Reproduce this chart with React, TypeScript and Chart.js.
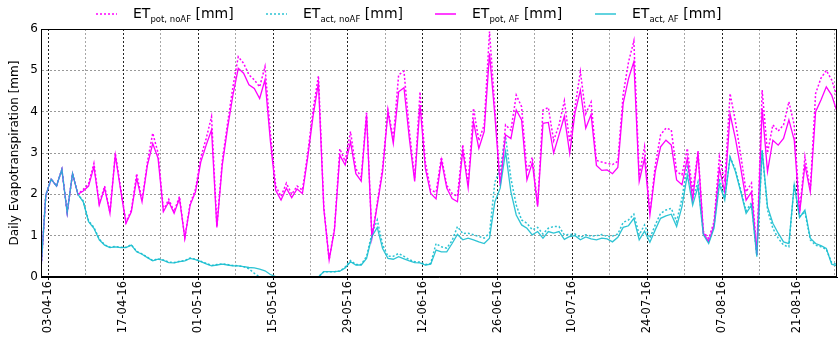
import React, { useEffect, useRef } from 'react';
import { Chart, registerables } from 'chart.js';

Chart.register(...registerables);

// Daily values, one per day (index 0 = 01-04-16 noon ... )
const potNoAF = [
  0, 1.98, 2.37, 2.2, 2.6, 1.56, 2.5, 2.0, 2.12, 2.25,
  2.75, 1.78, 2.2, 1.56, 3.0, 2.15, 1.32, 1.62, 2.5, 1.85,
  2.78, 3.48, 3.0, 1.62, 1.88, 1.58, 1.95, 0.95, 1.78, 2.12,
  2.9, 3.35, 3.88, 1.22, 2.8, 3.72, 4.6, 5.33, 5.17, 4.89,
  4.77, 4.6, 5.09, 3.5, 2.2, 1.95, 2.27, 2.0, 2.2, 2.1,
  3.0, 4.05, 4.87, 1.7, 0.42, 1.18, 3.1, 2.8, 3.52, 2.62,
  2.42, 4.0, 0.96, 1.8, 2.65, 4.05, 3.35, 4.89, 4.98, 3.55,
  2.4, 4.48, 2.78, 2.1, 2.05, 2.9, 2.22, 2.02, 1.95, 3.2,
  2.25, 4.08, 3.3, 3.68, 5.94, 4.1, 2.3, 3.68, 3.55, 4.4,
  4.12, 2.55, 2.9, 1.75, 4.04, 4.1, 3.3, 3.68, 4.26, 3.27,
  4.12, 4.97, 3.95, 4.23, 2.82, 2.78, 2.75, 2.72, 2.8, 4.42,
  5.2, 5.71, 2.45, 3.15, 1.55, 2.7, 3.44, 3.6, 3.56, 2.55,
  2.47, 3.11, 2.06, 3.05, 1.1, 0.93, 1.34, 2.91, 2.3, 4.44,
  3.76, 2.95, 2.06, 2.27, 0.6, 4.52, 3.0, 3.68, 3.53, 3.68,
  4.24, 3.68, 1.58, 2.91, 2.1, 4.44, 4.81, 5.0, 4.77, 4.36,
];

const actNoAF = [
  0, 1.98, 2.37, 2.2, 2.6, 1.56, 2.5, 2.0, 1.84, 1.36,
  1.2, 0.92, 0.78, 0.72, 0.74, 0.72, 0.72, 0.78, 0.62, 0.56,
  0.48, 0.4, 0.44, 0.41, 0.36, 0.35, 0.38, 0.4, 0.46, 0.43,
  0.38, 0.33, 0.28, 0.3, 0.32, 0.3, 0.28, 0.27, 0.25, 0.2,
  0.09, 0.0, 0, 0, 0, 0, 0, 0, 0, 0,
  0, 0, 0, 0.13, 0.13, 0.13, 0.14, 0.24, 0.4, 0.3,
  0.3, 0.5, 1.05, 1.38, 0.78, 0.5, 0.5, 0.57, 0.5, 0.42,
  0.37, 0.36, 0.3, 0.33, 0.81, 0.73, 0.7, 0.88, 1.22, 1.05,
  1.06, 1.02, 0.98, 0.94, 1.06, 2.3, 2.6, 3.4, 2.39, 1.74,
  1.38, 1.3, 1.14, 1.2, 1.04, 1.18, 1.22, 1.22, 1.02, 1.03,
  1.04, 0.96, 1.02, 0.99, 1.0, 1.03, 0.98, 0.99, 1.04, 1.32,
  1.38, 1.52, 1.02, 1.26, 0.94, 1.26, 1.54, 1.62, 1.66, 1.34,
  1.9, 2.71, 1.9, 2.3, 1.06, 0.85, 1.24, 2.38, 1.92, 2.9,
  2.6, 2.1, 1.6, 1.8, 0.52, 3.05, 1.62, 1.18, 0.94, 0.77,
  0.73, 2.25, 1.46, 1.58, 0.9, 0.77, 0.73, 0.67, 0.35, 0.3,
];

const potAF = [
  0, 1.98, 2.37, 2.2, 2.6, 1.56, 2.5, 2.0, 2.08, 2.2,
  2.67, 1.74, 2.15, 1.54, 2.95, 2.1, 1.3, 1.58, 2.39, 1.82,
  2.7, 3.23, 2.87, 1.58, 1.82, 1.54, 1.9, 0.94, 1.74, 2.06,
  2.79, 3.19, 3.56, 1.2, 2.7, 3.6, 4.4, 5.05, 4.93, 4.65,
  4.56, 4.32, 4.77, 3.3, 2.1, 1.86, 2.15, 1.92, 2.13, 2.02,
  2.9, 3.9, 4.7, 1.65, 0.41, 1.14, 2.95, 2.71, 3.27, 2.5,
  2.32, 3.92, 0.94, 1.74, 2.55, 4.0, 3.23, 4.48, 4.58, 3.35,
  2.31, 4.16, 2.63, 2.02, 1.89, 2.83, 2.15, 1.9, 1.82, 3.07,
  2.16, 3.76, 3.11, 3.52, 5.41, 3.9, 2.2, 3.44, 3.35, 4.04,
  3.8, 2.35, 2.77, 1.7, 3.72, 3.74, 3.0, 3.44, 3.89, 2.99,
  3.98, 4.52, 3.6, 3.93, 2.7, 2.58, 2.59, 2.5, 2.65, 4.2,
  4.8, 5.21, 2.31, 2.87, 1.5, 2.55, 3.15, 3.31, 3.19, 2.35,
  2.23, 2.87, 1.86, 2.99, 1.06, 0.85, 1.26, 2.63, 2.06, 3.94,
  3.35, 2.63, 1.86, 2.06, 0.53, 4.08, 2.55, 3.31, 3.19, 3.35,
  3.8, 3.31, 1.54, 2.71, 2.06, 4.0, 4.28, 4.6, 4.4, 4.0,
];

const actAF = [
  0, 1.98, 2.37, 2.2, 2.6, 1.56, 2.5, 2.0, 1.82, 1.34,
  1.18, 0.9, 0.77, 0.71, 0.73, 0.71, 0.71, 0.77, 0.61, 0.55,
  0.47, 0.39, 0.43, 0.4, 0.35, 0.34, 0.37, 0.39, 0.45, 0.42,
  0.37, 0.32, 0.27, 0.29, 0.31, 0.29, 0.27, 0.27, 0.25, 0.23,
  0.22, 0.19, 0.15, 0.06, 0.01, 0, 0, 0, 0, 0,
  0, 0, 0, 0.13, 0.13, 0.13, 0.14, 0.22, 0.37, 0.29,
  0.29, 0.45, 0.98, 1.2, 0.69, 0.45, 0.43, 0.49, 0.44, 0.39,
  0.35, 0.34, 0.29, 0.31, 0.65, 0.61, 0.61, 0.81, 1.03, 0.9,
  0.94, 0.9, 0.85, 0.81, 0.94, 1.82, 2.15, 3.03, 2.06, 1.5,
  1.26, 1.18, 1.02, 1.1, 0.94, 1.1, 1.06, 1.1, 0.91, 0.98,
  1.0, 0.9, 0.97, 0.92, 0.9, 0.94, 0.92, 0.85, 0.96, 1.2,
  1.24, 1.42, 0.9, 1.11, 0.84, 1.14, 1.42, 1.48, 1.52, 1.22,
  1.7, 2.47, 1.74, 2.19, 1.02, 0.81, 1.18, 2.24, 1.86, 2.9,
  2.55, 2.06, 1.54, 1.74, 0.49, 3.07, 1.7, 1.3, 1.06, 0.85,
  0.81, 2.23, 1.44, 1.62, 0.94, 0.81, 0.76, 0.69, 0.31, 0.27,
];

// Major tick labels (every 14 days); minor grid lines fall halfway (every 7 days)
const xTickLabels = [
  '03-04-16', '17-04-16', '01-05-16', '15-05-16', '29-05-16', '12-06-16',
  '26-06-16', '10-07-16', '24-07-16', '07-08-16', '21-08-16',
];
const firstTickIndex = 1.5; // 03-04-16 00:00 in data-index units
const tickStepDays = 7;
const minorTickCount = 22;

const yTickValues = [0, 1, 2, 3, 4, 5, 6];

const MAGENTA = 'rgb(255,0,255)';
const TEAL = 'rgba(23,190,207,0.9)';
const FONT = "'DejaVu Sans', sans-serif";

function toXY(values: number[]) {
  return values.map((v, i) => ({ x: i, y: v }));
}

const framePlugin = {
  id: 'frame',
  afterDatasetsDraw(chart: any) {
    const { ctx, chartArea } = chart;
    ctx.save();
    ctx.strokeStyle = '#000';
    ctx.lineWidth = 1;
    ctx.strokeRect(
      Math.round(chartArea.left) + 0.5,
      Math.round(chartArea.top) + 0.5,
      Math.round(chartArea.right - chartArea.left) - 1,
      Math.round(chartArea.bottom - chartArea.top) - 1
    );
    ctx.restore();
  },
};

function LegendItem(props: { left: number; color: string; dashed: boolean; sub: string }) {
  const { left, color, dashed, sub } = props;
  return (
    <div style={{ position: 'absolute', left, top: 2, height: 24, display: 'flex', alignItems: 'center', whiteSpace: 'nowrap' }}>
      <svg width={21} height={4} style={{ marginRight: 16 }}>
        <line x1={0} y1={2} x2={21} y2={2} stroke={color} strokeWidth={1.5} strokeDasharray={dashed ? '2 2' : undefined} />
      </svg>
      <span style={{ fontFamily: FONT, fontSize: 14, color: '#000' }}>
        ET<sub style={{ fontSize: 8.5, verticalAlign: 'sub' }}>{sub}</sub> [mm]
      </span>
    </div>
  );
}

export default function App() {
  const canvasRef = useRef<HTMLCanvasElement | null>(null);

  useEffect(() => {
    if (!canvasRef.current) return;
    const tickPositions: number[] = [];
    for (let k = 0; k < minorTickCount; k++) tickPositions.push(firstTickIndex + k * tickStepDays);

    const chart = new Chart(canvasRef.current, {
      type: 'line',
      data: {
        datasets: [
          { label: 'ET pot, noAF [mm]', data: toXY(potNoAF), borderColor: MAGENTA, borderWidth: 1.5, borderDash: [2, 2], pointRadius: 0, tension: 0, order: 4 },
          { label: 'ET act, noAF [mm]', data: toXY(actNoAF), borderColor: TEAL, borderWidth: 1.5, borderDash: [2, 2], pointRadius: 0, tension: 0, order: 3 },
          { label: 'ET pot, AF [mm]', data: toXY(potAF), borderColor: MAGENTA, borderWidth: 1.3, pointRadius: 0, tension: 0, order: 2 },
          { label: 'ET act, AF [mm]', data: toXY(actAF), borderColor: TEAL, borderWidth: 1.3, pointRadius: 0, tension: 0, order: 1 },
        ],
      },
      options: {
        animation: false,
        responsive: false,
        devicePixelRatio: 1,
        parsing: false as any,
        layout: { padding: { top: 29, right: 1, left: 0, bottom: 0 } },
        plugins: { legend: { display: false }, tooltip: { enabled: false } },
        scales: {
          x: {
            type: 'linear',
            min: 0.1,
            max: 149.0,
            afterFit: (scale: any) => {
              scale.height = 63;
              scale.paddingLeft = 0;
              scale.paddingRight = 0;
            },
            afterBuildTicks: (scale: any) => { scale.ticks = tickPositions.map((v) => ({ value: v })); },
            ticks: {
              autoSkip: false,
              minRotation: 90,
              maxRotation: 90,
              padding: 1,
              color: '#000',
              font: { family: FONT, size: 11.5 },
              callback: (_v: any, idx: number) => (idx % 2 === 0 ? xTickLabels[idx / 2] ?? '' : ''),
            },
            grid: {
              color: (ctx: any) => (ctx.index % 2 === 0 ? 'rgba(0,0,0,0.85)' : 'rgba(0,0,0,0.35)'),
              tickColor: (ctx: any) => (ctx.index % 2 === 0 ? '#000' : 'rgba(0,0,0,0)'),
              tickLength: 3,
              lineWidth: 1,
            },
            border: { display: true, color: '#000', width: 1, dash: [2, 2] },
          },
          y: {
            type: 'linear',
            min: 0,
            max: 6,
            afterFit: (scale: any) => {
              scale.width = 41;
              scale.paddingTop = 0;
              scale.paddingBottom = 0;
            },
            afterBuildTicks: (scale: any) => { scale.ticks = yTickValues.map((v) => ({ value: v })); },
            ticks: { padding: 3, color: '#000', font: { family: FONT, size: 12 } },
            grid: {
              color: 'rgba(0,0,0,0.4)',
              drawTicks: false,
              lineWidth: 1,
            },
            border: { display: true, color: '#000', width: 1, dash: [2, 2] },
            title: {
              display: true,
              text: 'Daily Evapotranspiration [mm]',
              color: '#000',
              font: { family: FONT, size: 12 },
              padding: { top: 8, bottom: 0 },
            },
          },
        },
      },
      plugins: [framePlugin],
    } as any);
    return () => chart.destroy();
  }, []);

  return (
    <div style={{ position: 'absolute', left: 0, top: 0, width: 838, height: 340, background: '#fff' }}>
      <canvas ref={canvasRef} width={838} height={340} style={{ position: 'absolute', left: 0, top: 0 }} />
      <LegendItem left={96} color={MAGENTA} dashed={true} sub="pot, noAF" />
      <LegendItem left={266} color={TEAL} dashed={true} sub="act, noAF" />
      <LegendItem left={435} color={MAGENTA} dashed={false} sub="pot, AF" />
      <LegendItem left={595} color={TEAL} dashed={false} sub="act, AF" />
    </div>
  );
}
